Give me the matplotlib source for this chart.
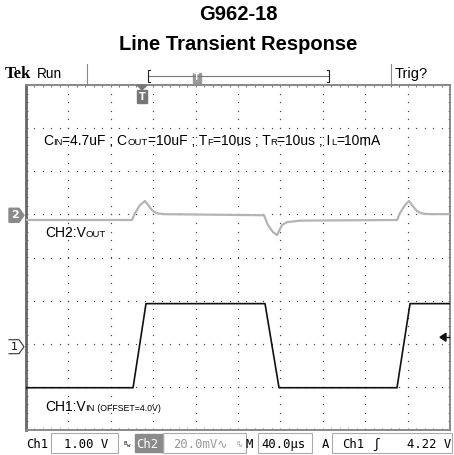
import numpy as np
import matplotlib
matplotlib.use("Agg")
import matplotlib.pyplot as plt
from matplotlib.patches import Rectangle, Polygon

# ---------------- data ----------------
title_lines = ["G962-18", "Line Transient Response"]

# CH1: Vin (volts), time in microseconds
vin_t = [0, 101, 113.2, 225.5, 238.7, 350, 362.3, 400]
vin_v = [3.05, 3.05, 5.0, 5.0, 3.05, 3.05, 5.0, 5.0]

# CH2: Vout deviation (mV) relative to the CH2 marker
vout_t = [0, 100, 102.8, 107.5, 112.3, 116, 119.8, 124.5, 131, 224.5, 228.3,
          233, 236.8, 241.5, 246.2, 258.5, 350, 352.8, 357.5, 361.3, 365,
          368.9, 373.6, 381, 400]
vout_mv = [-2.2, -2.2, 1.0, 4.7, 6.6, 4.2, 1.9, 0.8, 0.5, 0.0, -4.6,
           -7.8, -9.2, -4.6, -3.2, -2.5, -2.2, 1.0, 4.7, 6.6, 4.2,
           1.9, 0.8, 0.5, 0.5]

ch1_scale = 1.00      # V/div
ch1_offset = 4.0      # V at marker
ch1_pos = -2.07       # marker position (div)
ch2_scale = 20.0      # mV/div
ch2_pos = 0.98        # marker position (div)
time_scale = 40.0     # us/div
trig_level_div = -1.85

# ---------------- figure ----------------
W, H = 454, 455
fig = plt.figure(figsize=(W / 100, H / 100), dpi=100)
fig.patch.set_facecolor("white")

def fx(px):
    return px / W

def fy(py):
    return 1 - py / H

L, T, R, B = 26, 85, 450, 430
ax = fig.add_axes([fx(L), fy(B), (R - L) / W, (B - T) / H])
ax.set_xlim(0, 10)
ax.set_ylim(-4, 4)
ax.set_xticks([])
ax.set_yticks([])
for s in ax.spines.values():
    s.set_color("#888888")
    s.set_linewidth(1.4)
ax.spines["left"].set_color("#666666")
ax.spines["left"].set_linewidth(2.0)

grid_c = "#444444"
minor = np.arange(0, 10.001, 0.2)
ys = np.arange(-4, 4.001, 0.2)
# dotted graticule lines
for gx in range(1, 10):
    ax.plot(np.full_like(ys, gx), ys, ls="none", marker="s", ms=0.85,
            color=grid_c, mew=0)
for gy in range(-3, 4):
    ax.plot(minor, np.full_like(minor, gy), ls="none", marker="s", ms=0.85,
            color=grid_c, mew=0)
# border ticks
tick_c = "#777777"
ax.plot(minor, np.full_like(minor, 4), ls="none", marker="|", ms=3.5,
        mew=0.7, color=tick_c)
ax.plot(minor, np.full_like(minor, -4), ls="none", marker="|", ms=3.5,
        mew=0.7, color=tick_c)
ax.plot(np.zeros_like(ys), ys, ls="none", marker="_", ms=3.5, mew=0.7,
        color=tick_c)
ax.plot(np.full_like(ys, 10), ys, ls="none", marker="_", ms=3.5, mew=0.7,
        color=tick_c)

# traces
vin_div = (np.array(vin_v) - ch1_offset) / ch1_scale + ch1_pos
vout_div = np.array(vout_mv) / ch2_scale + ch2_pos
ax.plot(np.array(vout_t) / time_scale, vout_div, color="#b4b4b4", lw=1.6,
        solid_joinstyle="round", zorder=5)
ax.plot(np.array(vin_t) / time_scale, vin_div, color="#111111", lw=1.2,
        zorder=6)

# ---------------- texts ----------------
fig.text(fx(238), fy(14), title_lines[0], ha="center", va="center",
         fontsize=14.5, fontweight="bold", family="Liberation Sans")
fig.text(fx(238), fy(45), title_lines[1], ha="center", va="center",
         fontsize=14.5, fontweight="bold", family="Liberation Sans")

fig.canvas.draw()
renderer = fig.canvas.get_renderer()

def seq_text(x_px, y_px, pieces, family="Liberation Sans"):
    """pieces: list of (text, fontsize); baseline aligned, left to right."""
    x = x_px
    for txt, fs in pieces:
        t = fig.text(fx(x), fy(y_px), txt, ha="left", va="baseline",
                     fontsize=fs, family=family)
        bb = t.get_window_extent(renderer)
        x += bb.width

big, sml = 10.0, 6.8
seq_text(43, 145, [("C", big), ("IN", sml), ("=4.7uF ; C", big), ("OUT", sml),
                   ("=10uF ; T", big), ("F", sml), ("=10us ; T", big),
                   ("R", sml), ("=10us ; I", big), ("L", sml),
                   ("=10mA", big)])
seq_text(45, 237, [("CH2:V", big), ("OUT", sml)])
seq_text(45, 411, [("CH1:V", big), ("IN", sml), (" (OFFSET=4.0V)", 6.3)])

# top status bar
fig.text(fx(5), fy(78), "Tek", fontsize=12, fontweight="bold",
         family="Liberation Serif", ha="left", va="baseline")
fig.text(fx(37), fy(78), "Run", fontsize=9.8, family="Liberation Sans",
         ha="left", va="baseline")
fig.text(fx(395), fy(78), "Trig?", fontsize=10.5, family="Liberation Sans",
         ha="left", va="baseline")
fig.add_artist(plt.Line2D([fx(87), fx(87)], [fy(64), fy(84)], color="#888888",
                          lw=0.8))
fig.add_artist(plt.Line2D([fx(391), fx(391)], [fy(64), fy(84)],
                          color="#888888", lw=0.8))
# record bracket
fig.add_artist(plt.Line2D([fx(148), fx(329)], [fy(76), fy(76)],
                          color="#777777", lw=0.8))
for xb, d in [(148, 2), (329, -2)]:
    fig.add_artist(plt.Line2D([fx(xb + d), fx(xb), fx(xb), fx(xb + d)],
                              [fy(70), fy(70), fy(82), fy(82)],
                              color="#222222", lw=0.8))
fig.add_artist(Rectangle((fx(193), fy(83)), 8 / W, 10 / H,
                         transform=fig.transFigure, color="#999999"))
fig.text(fx(197), fy(78), "T", fontsize=5.5, color="white",
         ha="center", va="center", fontweight="bold")
# trigger marker on graticule
fig.add_artist(Polygon([(fx(137), fy(85)), (fx(147), fy(85)), (fx(142), fy(90))],
                       closed=True, transform=fig.transFigure,
                       color="#777777"))
fig.add_artist(Rectangle((fx(137), fy(103)), 10 / W, 13 / H,
                         transform=fig.transFigure, color="#777777"))
fig.text(fx(142), fy(96.5), "T", fontsize=7, color="white", ha="center",
         va="center", fontweight="bold")

# channel markers on the left
y2 = 257.5 - ch2_pos * 43.1
fig.add_artist(Polygon([(fx(9), fy(y2 - 7)), (fx(19), fy(y2 - 7)),
                        (fx(24), fy(y2)), (fx(19), fy(y2 + 7)),
                        (fx(9), fy(y2 + 7))], closed=True,
                       transform=fig.transFigure, color="#8a8a8a"))
fig.text(fx(14.5), fy(y2), "2", fontsize=8, color="white", ha="center",
         va="center", fontweight="bold")
y1 = 257.5 - ch1_pos * 43.1
fig.add_artist(plt.Line2D([fx(9), fx(19), fx(24), fx(19), fx(9)],
                          [fy(y1 - 7), fy(y1 - 7), fy(y1), fy(y1 + 7),
                           fy(y1 + 7)], color="#333333", lw=0.8))
fig.text(fx(14.5), fy(y1), "1", fontsize=8, color="#111111", ha="center",
         va="center")
# trigger level arrow on right
yt = 257.5 - trig_level_div * 43.1
fig.add_artist(Polygon([(fx(440), fy(yt)), (fx(446), fy(yt - 4)),
                        (fx(446), fy(yt + 4))], closed=True,
                       transform=fig.transFigure, color="#111111"))
fig.add_artist(plt.Line2D([fx(446), fx(449)], [fy(yt), fy(yt)],
                          color="#111111", lw=1.0))

# bottom status bar
by = 448
mono = ["DejaVu Sans Mono", "DejaVu Sans", "Noto Sans", "Noto Sans CJK SC"]
def box(x0, x1, y0=433, y1=453):
    fig.add_artist(Rectangle((fx(x0), fy(y1)), (x1 - x0) / W, (y1 - y0) / H,
                             transform=fig.transFigure, fill=False,
                             ec="#aaaaaa", lw=0.8))
fig.text(fx(26), fy(by), "Ch1", fontsize=8.8, family=mono, va="baseline")
box(51, 118)
fig.text(fx(64), fy(by), "1.00 V", fontsize=8.8, family=mono, va="baseline")
fig.text(fx(124), fy(by - 3), "B", fontsize=4, family=mono, va="baseline")
fig.text(fx(127), fy(by - 1), "w", fontsize=4, family=mono, va="baseline")
fig.add_artist(Rectangle((fx(135), fy(452)), 28 / W, 18 / H,
                         transform=fig.transFigure, color="#8a8a8a"))
fig.text(fx(136), fy(by), "Ch2", fontsize=8.8, family=mono, va="baseline",
         color="white")
box(163, 246)
fig.text(fx(173), fy(by), "20.0mV\u223f", fontsize=8.8, family=mono,
         va="baseline", color="#999999")
fig.text(fx(236), fy(by - 3), "B", fontsize=4, family=mono, va="baseline",
         color="#999999")
fig.text(fx(239), fy(by - 1), "w", fontsize=4, family=mono, va="baseline",
         color="#999999")
fig.text(fx(245), fy(by), "M", fontsize=8.8, family=mono, va="baseline")
box(258, 312)
fig.text(fx(261), fy(by), "40.0\u00b5s", fontsize=8.8, family=mono,
         va="baseline")
fig.text(fx(322), fy(by), "A", fontsize=8.8, family=mono, va="baseline")
box(332, 452)
fig.text(fx(342), fy(by), "Ch1", fontsize=8.8, family=mono, va="baseline")
fig.text(fx(372), fy(by), "\u0283", fontsize=9, family=mono, va="baseline")
fig.text(fx(451), fy(by), "4.22 V", fontsize=8.8, family=mono,
         va="baseline", ha="right")

fig.savefig("out.png", dpi=100, facecolor="white")
